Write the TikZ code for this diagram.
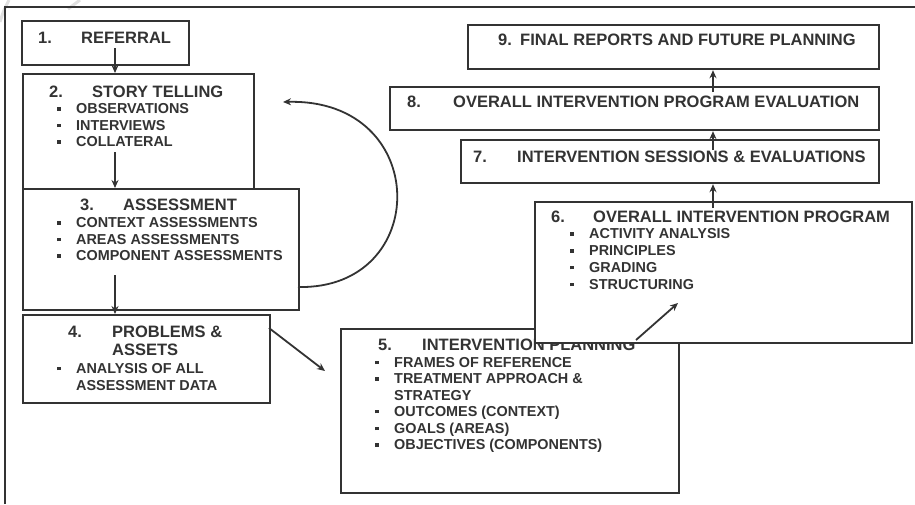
\documentclass[tikz,border=0pt]{standalone}
\usepackage{fontspec}
\setmainfont{Liberation Sans}
\usetikzlibrary{arrows.meta}
\definecolor{ink}{HTML}{333333}
\newcommand{\itembul}{\llap{\rule[3pt]{3.5pt}{3.5pt}\hspace{15.5pt}}}

\begin{document}
\begin{tikzpicture}[x=1pt,y=-1pt,
  box/.style={draw=ink, line width=2.2pt, fill=white, rectangle, inner sep=0pt, anchor=north west},
  head/.style={inner sep=0pt, anchor=base west, text=ink, font=\bfseries\fontsize{16.5}{18}\selectfont},
  item/.style={inner sep=0pt, anchor=base west, text=ink, font=\bfseries\fontsize{14.4}{16}\selectfont},
  link/.style={draw=ink, line width=1.8pt, -{Stealth[length=8pt,width=7pt]}}]
\useasboundingbox (0,0) rectangle (915,504);
% watermark traces
\draw[black!12, line width=3pt] (0,22) .. controls (3,12) .. (9,0);
\draw[black!12, line width=3pt] (68,9) .. controls (74,4) .. (80,0);
% frame
\draw[ink, line width=1.4pt] (5,504) -- (5,7) -- (915,7);
% left column
\node[box, minimum width=167pt, minimum height=44pt] (referral) at (21,20) {};
\node[head] (referraln) at (38,43) {1.};
\node[head] (referralt) at (81,43) {REFERRAL};
\node[box, minimum width=231pt, minimum height=115pt] (story) at (22,73) {};
\node[head] (storyn) at (49,97) {2.};
\node[head] (storyt) at (92,97) {STORY TELLING};
\foreach \txt [count=\i] in {OBSERVATIONS, INTERVIEWS, COLLATERAL}
  \node[item] (story\i) at (76,97+16.6*\i) {\itembul\txt};
\node[box, minimum width=276pt, minimum height=121pt] (assess) at (22,188) {};
\node[head] (assessn) at (80,210) {3.};
\node[head] (assesst) at (123,210) {ASSESSMENT};
\foreach \txt [count=\i] in {CONTEXT ASSESSMENTS, AREAS ASSESSMENTS, COMPONENT ASSESSMENTS}
  \node[item] (assess\i) at (76,211+16.6*\i) {\itembul\txt};
\node[box, minimum width=247pt, minimum height=88pt] (probs) at (22,314) {};
\node[head] (probsn) at (68,337) {4.};
\node[head] (probst) at (112,337) {PROBLEMS \&};
\node[head] (probsu) at (112,355) {ASSETS};
\node[item] (probs1) at (76,373) {\itembul ANALYSIS OF ALL};
\node[item] (probs2) at (76,390) {ASSESSMENT DATA};
% planning
\node[box, minimum width=338pt, minimum height=164pt] (plan) at (340,328) {};
\node[head] (plann) at (378,350) {5.};
\node[head] (plant) at (422,350) {INTERVENTION PLANNING};
\node[item] (plan1) at (394,367) {\itembul FRAMES OF REFERENCE};
\node[item] (plan2) at (394,383.6) {\itembul TREATMENT APPROACH \&};
\node[item] (plan3) at (394,400.2) {STRATEGY};
\foreach \txt [count=\i from 4] in {OUTCOMES (CONTEXT), GOALS (AREAS), OBJECTIVES (COMPONENTS)}
  \node[item] (plan\i) at (394,350+16.6*\i) {\itembul\txt};
\node[box, minimum width=377pt, minimum height=141pt] (prog) at (534,201) {};
\node[head] (progn) at (551,222) {6.};
\node[head] (progt) at (593,222) {OVERALL INTERVENTION PROGRAM};
\foreach \txt [count=\i] in {ACTIVITY ANALYSIS, PRINCIPLES, GRADING, STRUCTURING}
  \node[item] (prog\i) at (589,222+16.8*\i) {\itembul\txt};
% right column
\node[box, minimum width=418pt, minimum height=43pt] (sess) at (460,139) {};
\node[head] (sessn) at (473,162) {7.};
\node[head] (sesst) at (517,162) {INTERVENTION SESSIONS \& EVALUATIONS};
\node[box, minimum width=489pt, minimum height=43pt] (eval) at (389,86) {};
\node[head] (evaln) at (407,107) {8.};
\node[head] (evalt) at (453,107) {OVERALL INTERVENTION PROGRAM EVALUATION};
\node[box, minimum width=411pt, minimum height=44pt] (final) at (467,24) {};
\node[head] (finaln) at (498,45) {9.};
\node[head] (finalt) at (520,45) {FINAL REPORTS AND FUTURE PLANNING};
% connectors
\coordinate (s12) at (115,48);
\coordinate (s23) at (115,152);
\coordinate (s34) at (115,275);
\coordinate (s45) at (269,328);
\coordinate (e45) at (325,371);
\coordinate (s56) at (636,340);
\coordinate (e56) at (678,303);
\coordinate (s67) at (713,208);
\coordinate (s78) at (713,150);
\coordinate (s89) at (713,92);
\coordinate (s32) at (298,287);
\coordinate (e32) at (283,102);
\draw[link] (s12) -- (s12 |- story.north);
\draw[link] (s23) -- (s23 |- assess.north);
\draw[link] (s34) -- (s34 |- probs.north);
\draw[link] (s45) -- (e45);
\draw[link] (s56) -- (e56);
\draw[link] (s67) -- (s67 |- sess.south);
\draw[link] (s78) -- (s78 |- eval.south);
\draw[link] (s89) -- (s89 |- final.south);
\draw[link] (s32) .. controls (432,290) and (432,98) .. (e32);
\end{tikzpicture}
\end{document}
